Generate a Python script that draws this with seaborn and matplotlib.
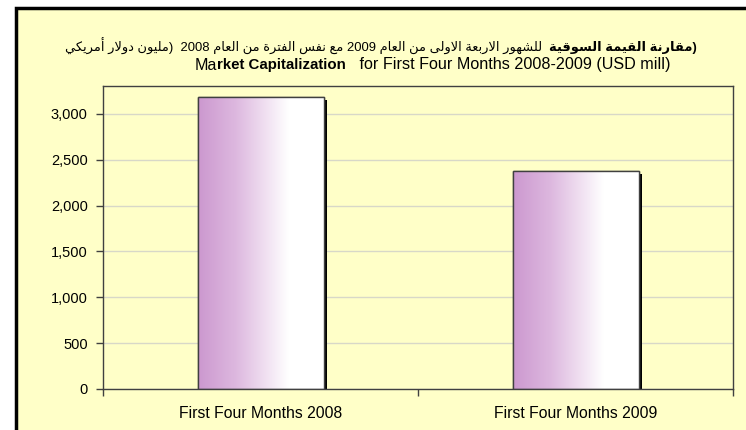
import re
import numpy as np
import pandas as pd
import matplotlib
matplotlib.use("Agg")
import matplotlib.pyplot as plt
import seaborn as sns
from matplotlib.patches import Rectangle
from matplotlib.colors import LinearSegmentedColormap
from matplotlib.offsetbox import TextArea, HPacker, AnchoredOffsetbox
import matplotlib.patheffects as pe
from matplotlib.ticker import FuncFormatter, FixedLocator

# ---------------- data ----------------
categories = ["First Four Months 2008", "First Four Months 2009"]
market_cap = [3185, 2378]
y_ticks = [0, 500, 1000, 1500, 2000, 2500, 3000]

title_ar_bold = "(مقارنة القيمة السوقية"
title_ar_rest = "  للشهور الاربعة الاولى من العام 2009 مع نفس الفترة من العام 2008  (مليون دولار أمريكي"
title_en_parts = [("Ma", "normal"), ("rket Capitalization", "bold"),
                  ("   for First Four Months 2008-2009 (USD mill)", "normal")]

# ---------------- minimal Arabic shaping + RTL ordering ----------------
FORMS = {
    "ا": ("\uFE8D", "\uFE8E", None, None),
    "أ": ("\uFE83", "\uFE84", None, None),
    "ب": ("\uFE8F", "\uFE90", "\uFE91", "\uFE92"),
    "ة": ("\uFE93", "\uFE94", None, None),
    "ت": ("\uFE95", "\uFE96", "\uFE97", "\uFE98"),
    "د": ("\uFEA9", "\uFEAA", None, None),
    "ر": ("\uFEAD", "\uFEAE", None, None),
    "س": ("\uFEB1", "\uFEB2", "\uFEB3", "\uFEB4"),
    "ش": ("\uFEB5", "\uFEB6", "\uFEB7", "\uFEB8"),
    "ع": ("\uFEC9", "\uFECA", "\uFECB", "\uFECC"),
    "ف": ("\uFED1", "\uFED2", "\uFED3", "\uFED4"),
    "ق": ("\uFED5", "\uFED6", "\uFED7", "\uFED8"),
    "ك": ("\uFED9", "\uFEDA", "\uFEDB", "\uFEDC"),
    "ل": ("\uFEDD", "\uFEDE", "\uFEDF", "\uFEE0"),
    "م": ("\uFEE1", "\uFEE2", "\uFEE3", "\uFEE4"),
    "ن": ("\uFEE5", "\uFEE6", "\uFEE7", "\uFEE8"),
    "ه": ("\uFEE9", "\uFEEA", "\uFEEB", "\uFEEC"),
    "و": ("\uFEED", "\uFEEE", None, None),
    "ى": ("\uFEEF", "\uFEF0", None, None),
    "ي": ("\uFEF1", "\uFEF2", "\uFEF3", "\uFEF4"),
    "LA": ("\uFEFB", "\uFEFC", None, None),
    "LAH": ("\uFEF7", "\uFEF8", None, None),
}
MIRROR = {"(": ")", ")": "("}


def shape_word(w):
    toks, i = [], 0
    while i < len(w):
        c = w[i]
        if c == "ل" and i + 1 < len(w) and w[i + 1] in ("ا", "أ"):
            toks.append("LA" if w[i + 1] == "ا" else "LAH")
            i += 2
        else:
            toks.append(c)
            i += 1
    dual = lambda t: t in FORMS and FORMS[t][2] is not None
    res = []
    for k, t in enumerate(toks):
        f = FORMS.get(t)
        if f is None:
            res.append(MIRROR.get(t, t))
            continue
        prev = toks[k - 1] if k > 0 else None
        nxt = toks[k + 1] if k + 1 < len(toks) else None
        jp = prev is not None and dual(prev)
        jn = dual(t) and nxt is not None and nxt in FORMS
        if jp and jn:
            res.append(f[3])
        elif jp:
            res.append(f[1])
        elif jn:
            res.append(f[2])
        else:
            res.append(f[0])
    return "".join(reversed(res))


def rtl_visual(text):
    """Logical RTL text -> left-to-right glyph order (numbers stay LTR)."""
    out = []
    for tok in reversed(re.split(r"(\s+)", text)):
        if not tok or tok.isspace() or not any(ch in FORMS for ch in tok):
            out.append(tok)
            continue
        out.append(shape_word(tok))
    return "".join(out)


# ---------------- figure ----------------
sns.set_theme(style="white")
FAM = ["Liberation Sans", "DejaVu Sans"]
plt.rcParams["font.family"] = FAM

W, H = 746, 430
YELLOW = "#FFFFC8"
fig = plt.figure(figsize=(W / 100, H / 100), dpi=100, facecolor="white")

# chart area frame (extends beyond the crop at right/bottom)
frame = Rectangle((16 / W, -0.1), 1.2, (H - 8) / H + 0.1,
                  transform=fig.transFigure, facecolor=YELLOW,
                  edgecolor="black", linewidth=2.5, zorder=-10)
fig.add_artist(frame)

ax = fig.add_axes([103 / W, (H - 389) / H, (733 - 103) / W, (389 - 86) / H])
ax.set_facecolor(YELLOW)
ax.set_zorder(1)

df = pd.DataFrame({"category": categories, "value": market_cap})
sns.barplot(data=df, x="category", y="value", ax=ax, width=0.4,
            color="white", edgecolor="#404040", linewidth=1.0,
            saturation=1, zorder=2)

cmap = LinearSegmentedColormap.from_list(
    "bar", [(0, "#CC98CF"), (0.3, "#DDB8DF"), (0.72, "#FFFFFF"), (1, "#FFFFFF")])
grad = np.linspace(0, 1, 256).reshape(1, -1)
for p in list(ax.patches):
    x0, y0 = p.get_x(), p.get_y()
    w, h = p.get_width(), p.get_height()
    p.set_path_effects([pe.SimplePatchShadow(offset=(2.5, -2.0),
                                             shadow_rgbFace="black", alpha=1.0),
                        pe.Normal()])
    im = ax.imshow(grad, cmap=cmap, aspect="auto", extent=[x0, x0 + w, y0, y0 + h],
                   interpolation="bilinear", zorder=2.5)
    im.set_clip_path(p)
    ax.add_patch(Rectangle((x0, y0), w, h, facecolor="none",
                           edgecolor="#404040", linewidth=1.0, zorder=3))
ax.set_xlim(-0.5, 1.5)
ax.set_ylim(0, 3305)

# grid
ax.yaxis.set_major_locator(FixedLocator(y_ticks))
ax.yaxis.set_major_formatter(FuncFormatter(lambda v, _: f"{int(v):,}"))
ax.grid(axis="y", color="#D8D8C8", linewidth=1.0, zorder=0)
ax.set_axisbelow(True)

for s in ax.spines.values():
    s.set_visible(True)
    s.set_color("#404040")
    s.set_linewidth(1.0)

ax.tick_params(axis="y", which="major", direction="out", length=5, width=1,
               color="#404040", labelsize=10.5, labelcolor="black", pad=6, left=True)
ax.set_xticks(range(len(categories)))
ax.set_xticklabels(categories)
ax.tick_params(axis="x", which="major", length=0, labelsize=11.3,
               labelcolor="black", pad=12)
ax.set_xticks([-0.5, 0.5, 1.5], minor=True)
ax.tick_params(axis="x", which="minor", direction="out", length=5, width=1,
               color="#404040", bottom=True)
ax.set_xlabel("")
ax.set_ylabel("")


# titles
def add_line(parts, x, y):
    boxes = [TextArea(t, textprops=dict(fontsize=sz, fontweight=wt, family=FAM,
                                        color="black"))
             for t, wt, sz in parts]
    pack = HPacker(children=boxes, pad=0, sep=0, align="baseline")
    ab = AnchoredOffsetbox(loc="center left", child=pack, pad=0, borderpad=0,
                           frameon=False, bbox_to_anchor=(x / W, 1 - y / H),
                           bbox_transform=fig.transFigure)
    ab.set_zorder(5)
    fig.add_artist(ab)


add_line([(rtl_visual(title_ar_rest), "normal", 9.4),
          (rtl_visual(title_ar_bold), "bold", 9.4)], 65, 46)
add_line([(t, wt, 10.8 if wt == "bold" else 11.6) for t, wt in title_en_parts],
         195, 65)

fig.savefig("out.png", dpi=100, facecolor="white")
